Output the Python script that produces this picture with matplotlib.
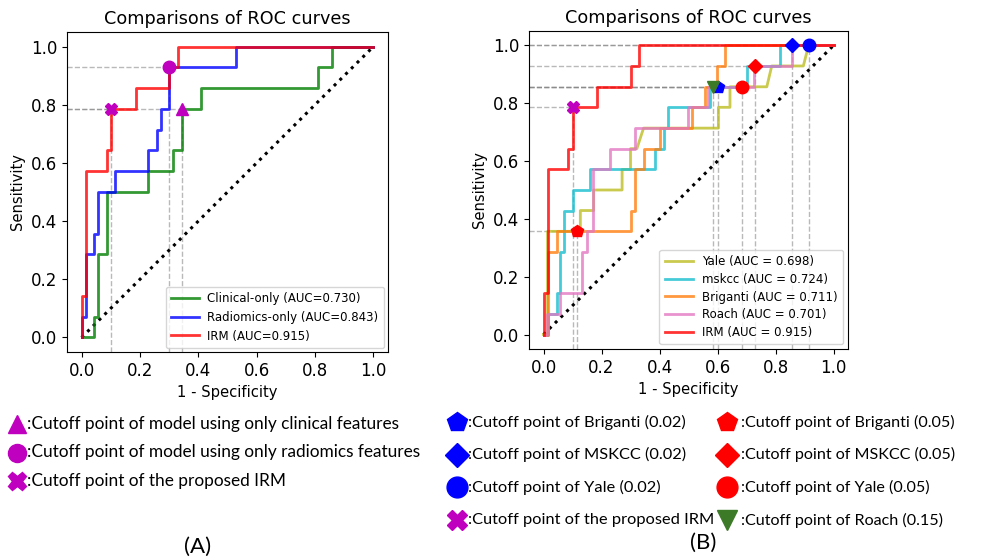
import matplotlib
matplotlib.use("Agg")
import matplotlib.pyplot as plt

# ---- panel A: ROC curves (fpr, tpr) ----
clinical_fpr = [0, 0.043, 0.043, 0.057, 0.057, 0.086, 0.086, 0.229, 0.229, 0.314, 0.314,
                0.343, 0.343, 0.409, 0.409, 0.811, 0.811, 0.857, 0.857, 1.0]
clinical_tpr = [0, 0, 0.071, 0.071, 0.286, 0.286, 0.5, 0.5, 0.571, 0.571, 0.643,
                0.643, 0.786, 0.786, 0.857, 0.857, 0.929, 0.929, 1.0, 1.0]
radiomics_fpr = [0, 0, 0.014, 0.014, 0.043, 0.043, 0.057, 0.057, 0.114, 0.114, 0.229, 0.229,
                 0.257, 0.257, 0.271, 0.271, 0.3, 0.3, 0.529, 0.529, 1.0]
radiomics_tpr = [0, 0.071, 0.071, 0.286, 0.286, 0.357, 0.357, 0.5, 0.5, 0.571, 0.571, 0.643,
                 0.643, 0.714, 0.714, 0.786, 0.786, 0.929, 0.929, 1.0, 1.0]
irm_fpr = [0, 0, 0.014, 0.014, 0.086, 0.086, 0.1, 0.1, 0.186, 0.186, 0.3, 0.3, 0.329, 0.329, 1.0]
irm_tpr = [0, 0.143, 0.143, 0.571, 0.571, 0.643, 0.643, 0.786, 0.786, 0.857, 0.857, 0.929,
           0.929, 1.0, 1.0]

labels_a = ["Clinical-only", "Radiomics-only", "IRM"]
auc_a = [0.730, 0.843, 0.915]

# cutoff points panel A: (fpr, tpr)
cut_a_clinical = (0.343, 0.786)
cut_a_radiomics = (0.3, 0.929)
cut_a_irm = (0.1, 0.786)

# ---- panel B ----
yale_fpr = [0, 0.014, 0.014, 0.127, 0.127, 0.173, 0.173, 0.271, 0.271, 0.3, 0.3, 0.322, 0.345,
            0.603, 0.603, 0.643, 0.643, 0.77, 0.787, 0.896, 0.914, 1.0]
yale_tpr = [0, 0, 0.357, 0.357, 0.429, 0.429, 0.5, 0.5, 0.571, 0.571, 0.643, 0.643, 0.714,
            0.714, 0.786, 0.786, 0.857, 0.857, 0.929, 0.929, 1.0, 1.0]
mskcc_fpr = [0, 0.014, 0.014, 0.047, 0.047, 0.058, 0.058, 0.07, 0.07, 0.1, 0.1, 0.162, 0.162,
             0.385, 0.385, 0.414, 0.414, 0.428, 0.428, 0.575, 0.575, 0.70, 0.70, 0.814, 0.814, 1.0]
mskcc_tpr = [0, 0, 0.071, 0.071, 0.143, 0.143, 0.286, 0.286, 0.429, 0.429, 0.5, 0.5, 0.571,
             0.571, 0.643, 0.643, 0.714, 0.714, 0.786, 0.786, 0.857, 0.857, 0.929, 0.929, 1.0, 1.0]
briganti_fpr = [0, 0.014, 0.014, 0.045, 0.045, 0.30, 0.30, 0.314, 0.314, 0.346, 0.346, 0.401,
                0.401, 0.511, 0.511, 0.557, 0.557, 0.597, 0.597, 0.626, 0.626, 1.0]
briganti_tpr = [0, 0, 0.286, 0.286, 0.357, 0.357, 0.429, 0.429, 0.571, 0.571, 0.643, 0.643,
                0.714, 0.714, 0.786, 0.786, 0.857, 0.857, 0.929, 0.929, 1.0, 1.0]
roach_fpr = [0, 0.013, 0.013, 0.058, 0.058, 0.133, 0.133, 0.15, 0.15, 0.172, 0.172, 0.23, 0.23,
             0.316, 0.316, 0.497, 0.497, 0.566, 0.566, 0.727, 0.727, 0.857, 0.857, 1.0]
roach_tpr = [0, 0, 0.071, 0.071, 0.143, 0.143, 0.286, 0.286, 0.357, 0.357, 0.571, 0.571, 0.643,
             0.643, 0.714, 0.714, 0.786, 0.786, 0.857, 0.857, 0.929, 0.929, 1.0, 1.0]

labels_b = ["Yale", "mskcc", "Briganti", "Roach", "IRM"]
auc_b = [0.698, 0.724, 0.711, 0.701, 0.915]
colors_b = ["tab:olive", "tab:cyan", "tab:orange", "tab:pink", "red"]

# cutoff points panel B: (fpr, tpr, marker, colour)
cut_b = [
    (0.114, 0.357, "p", "red"),      # Briganti 0.05
    (0.6, 0.857, "p", "blue"),       # Briganti 0.02
    (0.586, 0.857, "v", "#3d7a28"),  # Roach 0.15
    (0.686, 0.857, "o", "red"),      # Yale 0.05
    (0.729, 0.929, "D", "red"),      # MSKCC 0.05
    (0.857, 1.0, "D", "blue"),       # MSKCC 0.02
    (0.914, 1.0, "o", "blue"),       # Yale 0.02
    (0.1, 0.786, "X", "m"),          # IRM
]

notes_a = [("^", ":Cutoff point of model using only clinical features"),
           ("o", ":Cutoff point of model using only radiomics features"),
           ("X", ":Cutoff point of the proposed IRM")]
notes_b_left = [("p", "blue", ":Cutoff point of Briganti (0.02)"),
                ("D", "blue", ":Cutoff point of MSKCC (0.02)"),
                ("o", "blue", ":Cutoff point of Yale (0.02)"),
                ("X", "m", ":Cutoff point of the proposed IRM")]
notes_b_right = [("p", "red", ":Cutoff point of Briganti (0.05)"),
                 ("D", "red", ":Cutoff point of MSKCC (0.05)"),
                 ("o", "red", ":Cutoff point of Yale (0.05)"),
                 ("v", "#3d7a28", ":Cutoff point of Roach (0.15)")]

W, H = 985, 560
fig = plt.figure(figsize=(W / 100, H / 100), dpi=100)

ax1 = fig.add_axes([67 / W, 1 - 352 / H, 321 / W, 320 / H])
ax2 = fig.add_axes([529 / W, 1 - 349 / H, 319 / W, 318 / H])

LW = 2
XMIN = -0.05


def guide(ax, x, y):
    ax.plot([XMIN, x], [y, y], ls="--", color="grey", alpha=0.55, lw=1, zorder=1)
    ax.plot([x, x], [XMIN, y], ls="--", color="grey", alpha=0.55, lw=1, zorder=1)


def style(ax):
    ax.set_xlim(-0.05, 1.05)
    ax.set_ylim(-0.05, 1.05)
    ax.set_title("Comparisons of ROC curves", fontsize=12.7)
    ax.set_xlabel("1 - Specificity", fontsize=10.6)
    ax.set_ylabel("Sensitivity", fontsize=10.6)
    ax.tick_params(labelsize=12)
    ax.plot([0, 1], [0, 1], ls=":", color="black", lw=2.2, zorder=2)


# panel A
style(ax1)
for fpr, tpr, c, lab, auc in zip([clinical_fpr, radiomics_fpr, irm_fpr],
                                 [clinical_tpr, radiomics_tpr, irm_tpr],
                                 ["green", "blue", "red"], labels_a, auc_a):
    ax1.plot(fpr, tpr, color=c, lw=LW, alpha=0.8, label=f"{lab} (AUC={auc:.3f})", zorder=3)
for (x, y), m in zip([cut_a_clinical, cut_a_radiomics, cut_a_irm], ["^", "o", "X"]):
    guide(ax1, x, y)
    ax1.plot(x, y, marker=m, color="m", ms=9, ls="none", zorder=5)
ax1.legend(loc="lower right", fontsize=8.5, handlelength=2.4, labelspacing=0.48,
           borderpad=0.45, handletextpad=0.7, borderaxespad=0.35)

# panel B
style(ax2)
for fpr, tpr, c, lab, auc in zip([yale_fpr, mskcc_fpr, briganti_fpr, roach_fpr, irm_fpr],
                                 [yale_tpr, mskcc_tpr, briganti_tpr, roach_tpr, irm_tpr],
                                 colors_b, labels_b, auc_b):
    ax2.plot(fpr, tpr, color=c, lw=LW, alpha=0.8, label=f"{lab} (AUC = {auc:.3f})", zorder=3)
for x, y, m, c in cut_b:
    guide(ax2, x, y)
    ax2.plot(x, y, marker=m, color=c, ms=9 if m != "D" else 7.5, ls="none", zorder=5)
ax2.legend(loc="lower right", fontsize=8.5, handlelength=2.4, labelspacing=0.4,
           borderpad=0.45, borderaxespad=0.4)

# notes below the panels (pixel coordinates overlay)
ov = fig.add_axes([0, 0, 1, 1])
ov.set_xlim(0, W)
ov.set_ylim(H, 0)
ov.axis("off")
NOTE_FONT = "Lato"

for i, (m, txt) in enumerate(notes_a):
    y = 424 + i * 28.5
    ov.plot(17, y, marker=m, color="m", ms=13, ls="none")
    ov.text(27, y, txt, fontsize=12.4, family=NOTE_FONT, va="center", ha="left")
for i, (m, c, txt) in enumerate(notes_b_left):
    y = 422 + i * 32.7
    ov.plot(457, y, marker=m, color=c, ms=15 if m != "D" else 12, ls="none")
    ov.text(468, y, txt, fontsize=11.8, family=NOTE_FONT, va="center", ha="left")
for i, (m, c, txt) in enumerate(notes_b_right):
    y = 422 + i * 32.7
    ov.plot(727, y, marker=m, color=c, ms=15 if m != "D" else 12, ls="none")
    ov.text(741, y, txt, fontsize=11.6, family=NOTE_FONT, va="center", ha="left")

ov.text(198, 547, "(A)", fontsize=16, family=NOTE_FONT, ha="center", va="center")
ov.text(703, 543, "(B)", fontsize=16, family=NOTE_FONT, ha="center", va="center")

fig.savefig("out.png", dpi=100)
